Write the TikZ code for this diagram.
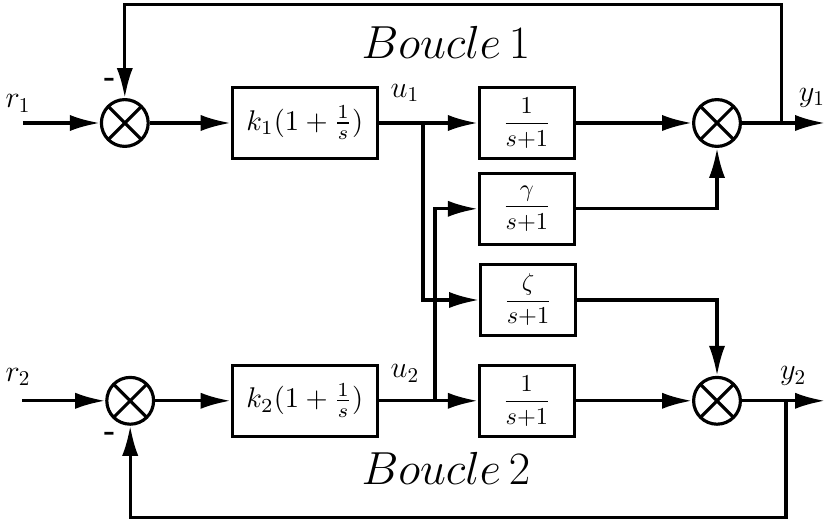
\documentclass[tikz,border=0pt]{standalone}
\usepackage{amsmath}
\usepackage{amssymb}
\usepackage{graphicx}
\usepackage{tikz}
\usetikzlibrary{arrows.meta, positioning, calc}
\tikzstyle{block} = [draw, line width=1.5pt, minimum height=1.18cm, inner sep=2pt]
\tikzstyle{sum} = [draw, circle, line width=1.5pt, minimum size=0.78cm, inner sep=0pt,
    path picture={\draw[line width=1.5pt] (path picture bounding box.north west) -- (path picture bounding box.south east)
                   (path picture bounding box.north east) -- (path picture bounding box.south west);}]
\tikzstyle{line} = [line width=1.5pt]
\tikzstyle{arrow} = [line width=1.5pt, -{Latex[length=5mm,width=2.7mm]}]
\tikzstyle{signal} = [font=\Large]
\newcommand{\bigtf}[1]{\scalebox{1.35}{$#1$}}
\newcommand{\firstorder}[1]{\scalebox{1.15}{$\nulldelimiterspace=0.5pt\dfrac{#1}{s{+}1}$}}

\begin{document}
\begin{tikzpicture}
    \useasboundingbox (0, 0) rectangle (13.75, 8.75);

    % Summing junctions
    \node[sum] (sum1) at (2.08, 6.7) {};
    \node[sum] (sum2) at (2.17, 2.07) {};
    \node[sum] (sum3) at (11.95, 6.7) {};
    \node[sum] (sum4) at (11.95, 2.07) {};

    % Controllers
    \node[block, minimum width=2.42cm] (pi1) at (5.08, 6.7) {\bigtf{k_1(1+\frac{1}{s})}};
    \node[block, minimum width=2.42cm] (pi2) at (5.08, 2.07) {\bigtf{k_2(1+\frac{1}{s})}};

    % Plant transfers
    \node[block, minimum width=1.58cm] (g11) at (8.78, 6.7) {\firstorder{1}};
    \node[block, minimum width=1.58cm] (gam) at (8.78, 5.27) {\firstorder{\gamma}};
    \node[block, minimum width=1.58cm] (zet) at (8.8, 3.75) {\firstorder{\zeta}};
    \node[block, minimum width=1.58cm] (g22) at (8.78, 2.07) {\firstorder{1}};

    % Branch points
    \coordinate (r1in) at (0.38, 6.7);
    \coordinate (r2in) at (0.37, 2.07);
    \coordinate (br1) at (7.05, 6.7);
    \coordinate (br2) at (7.25, 2.07);
    \coordinate (fb1) at (13.02, 6.7);
    \coordinate (top1) at (13.02, 8.68);
    \coordinate (y1out) at (13.75, 6.7);
    \coordinate (fb2) at (13.1, 2.07);
    \coordinate (bot2) at (13.1, 0.12);
    \coordinate (y2out) at (13.75, 2.07);

    % Loop 1
    \draw[arrow] (r1in) -- (sum1);
    \draw[arrow] (sum1) -- (pi1);
    \draw[line] (pi1) -- (br1);
    \draw[arrow] (br1) -- (g11);
    \draw[arrow] (br1) |- (zet);
    \draw[arrow] (g11) -- (sum3);
    \draw[arrow] (gam) -| (sum3);
    \draw[arrow] (sum3) -- (y1out);
    \draw[arrow] (fb1) -- (top1) -| (sum1);

    % Loop 2
    \draw[arrow] (r2in) -- (sum2);
    \draw[arrow] (sum2) -- (pi2);
    \draw[line] (pi2) -- (br2);
    \draw[arrow] (br2) -- (g22);
    \draw[arrow] (br2) |- (gam);
    \draw[arrow] (g22) -- (sum4);
    \draw[arrow] (zet) -| (sum4);
    \draw[arrow] (sum4) -- (y2out);
    \draw[arrow] (fb2) -- (bot2) -| (sum2);

    % Signals
    \node[signal] at (0.3, 7.03) {$r_1$};
    \node[signal] at (0.3, 2.47) {$r_2$};
    \node[signal] at (6.75, 7.2) {$u_1$};
    \node[signal] at (6.75, 2.53) {$u_2$};
    \node[signal] at (13.53, 7.12) {$y_1$};
    \node[signal] at (13.22, 2.48) {$y_2$};
    \node at (1.83, 7.38) {\Large\textbf{-}};
    \node at (1.83, 1.47) {\Large\textbf{-}};

    % Loop names
    \node at (7.43, 8.05) {\huge\scalebox{1.06}{$Boucle\,1$}};
    \node at (7.43, 0.95) {\huge\scalebox{1.06}{$Boucle\,2$}};
\end{tikzpicture}
\end{document}
